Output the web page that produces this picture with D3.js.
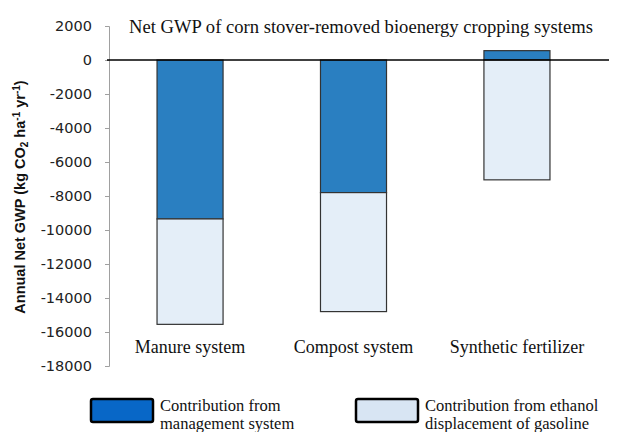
<!DOCTYPE html>
<html>
<head>
<meta charset="utf-8">
<script src="https://cdn.jsdelivr.net/npm/d3@7"></script>
<style>
  body { margin: 0; background: #fff; }
  svg { display: block; }
</style>
</head>
<body>
<svg id="chart" width="621" height="432"></svg>
<script>
// data
const systems = ["Manure system", "Compost system", "Synthetic fertilizer"];
const management = [-9350, -7800, 550];
const ethanol = [-6200, -7000, -7050];
const yTicks = [2000, 0, -2000, -4000, -6000, -8000, -10000, -12000, -14000, -16000, -18000];
const seriesKeys = ["management", "ethanol"];
const barColors = { management: "#2a7fc1", ethanol: "#e4eef8" };
const legendColors = { management: "#0867c7", ethanol: "#d8e5f3" };

const width = 621, height = 432;
const svg = d3.select("#chart");

const rows = systems.map((s, i) => ({ system: s, management: management[i], ethanol: ethanol[i] }));

const x = d3.scaleBand()
  .domain(systems)
  .range([108, 599])
  .paddingInner(0.596)
  .paddingOuter(0.3);

const y = d3.scaleLinear()
  .domain([-18000, 2000])
  .range([366, 26]);

const stacked = d3.stack()
  .keys(seriesKeys)
  .offset(d3.stackOffsetDiverging)(rows);

// y axis
const yAxis = svg.append("g")
  .attr("transform", "translate(109,0)")
  .call(d3.axisLeft(y).tickValues(yTicks).tickSize(4).tickPadding(13).tickFormat(d => String(d)));
yAxis.select(".domain").attr("stroke", "#a0a0a0");
yAxis.selectAll(".tick line").attr("stroke", "#a0a0a0");
yAxis.selectAll(".tick text")
  .attr("font-family", "DejaVu Sans")
  .attr("font-size", 14.5)
  .attr("fill", "#222");

// bars
svg.append("g")
  .selectAll("g")
  .data(stacked)
  .join("g")
  .attr("fill", d => barColors[d.key])
  .selectAll("rect")
  .data(d => d)
  .join("rect")
  .attr("x", d => x(d.data.system))
  .attr("width", x.bandwidth())
  .attr("y", d => y(d[1]))
  .attr("height", d => y(d[0]) - y(d[1]))
  .attr("stroke", "#333")
  .attr("stroke-width", 1.2);

// zero line
svg.append("line")
  .attr("x1", 107).attr("x2", 609)
  .attr("y1", y(0)).attr("y2", y(0))
  .attr("stroke", "#000")
  .attr("stroke-width", 1.5);

// category labels
svg.append("g")
  .selectAll("text")
  .data(systems)
  .join("text")
  .attr("x", d => x(d) + x.bandwidth() / 2)
  .attr("y", 353)
  .attr("text-anchor", "middle")
  .attr("font-family", "Liberation Serif")
  .attr("font-size", 18)
  .attr("fill", "#111")
  .text(d => d);

// title
svg.append("text")
  .attr("x", 361)
  .attr("y", 33)
  .attr("text-anchor", "middle")
  .attr("font-family", "Liberation Serif")
  .attr("font-size", 18.6)
  .attr("fill", "#111")
  .text("Net GWP of corn stover-removed bioenergy cropping systems");

// y axis title
const yt = svg.append("text")
  .attr("transform", "translate(25,197) rotate(-90)")
  .attr("text-anchor", "middle")
  .attr("font-family", "Liberation Sans")
  .attr("font-weight", "bold")
  .attr("font-size", 14.5)
  .attr("fill", "#111");
yt.append("tspan").text("Annual Net GWP (kg CO");
yt.append("tspan").attr("font-size", 10).attr("dy", 3).text("2");
yt.append("tspan").attr("dy", -3).text(" ha");
yt.append("tspan").attr("font-size", 10).attr("dy", -5).text("-1");
yt.append("tspan").attr("dy", 5).text(" yr");
yt.append("tspan").attr("font-size", 10).attr("dy", -5).text("-1");
yt.append("tspan").attr("dy", 5).text(")");

// legend
const legendItems = [
  { key: "management", x: 91, lines: ["Contribution from", "management system"] },
  { key: "ethanol", x: 356, lines: ["Contribution from ethanol", "displacement of gasoline"] }
];
const lg = svg.append("g")
  .selectAll("g")
  .data(legendItems)
  .join("g")
  .attr("transform", d => `translate(${d.x},399)`);
lg.append("rect")
  .attr("width", 62)
  .attr("height", 23)
  .attr("rx", 2)
  .attr("fill", d => legendColors[d.key])
  .attr("stroke", "#000")
  .attr("stroke-width", 2.5);
lg.append("text")
  .attr("font-family", "Liberation Serif")
  .attr("font-size", 16.5)
  .attr("fill", "#111")
  .selectAll("tspan")
  .data(d => d.lines)
  .join("tspan")
  .attr("x", 69)
  .attr("y", (d, i) => 12 + i * 18)
  .text(d => d);
</script>
</body>
</html>
